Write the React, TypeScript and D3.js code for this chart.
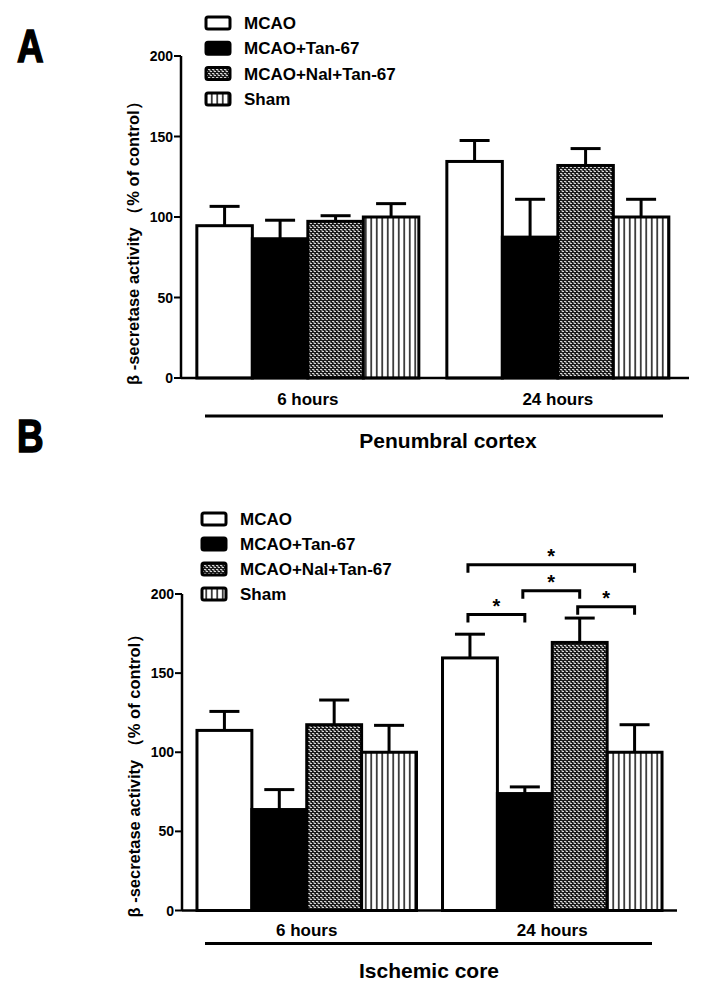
import { useEffect } from "react";
import * as d3 from "d3";

const groups = ["6 hours", "24 hours"];
const series = ["MCAO", "MCAO+Tan-67", "MCAO+Nal+Tan-67", "Sham"];
const yTicks = [0, 50, 100, 150, 200];

// values per group, series order as above (% of control)
const penumbraMeans = [
  [94.6, 86.5, 97.3, 100],
  [134.5, 87.5, 132, 100],
];
const penumbraSem = [
  [12, 11.5, 3.5, 8.3],
  [13, 23.5, 10.5, 11],
];
const coreMeans = [
  [113.8, 63.8, 117.4, 100],
  [159.6, 73.9, 169.4, 100],
];
const coreSem = [
  [12, 12.6, 15.6, 17],
  [15, 4.2, 15.4, 17.4],
];

// significance brackets in the 24 h group of the ischemic core
const coreBrackets = [
  { from: 0, to: 1, level: 187 },
  { from: 1, to: 2, level: 202 },
  { from: 2, to: 3, level: 192 },
  { from: 0, to: 3, level: 218.5 },
];

const FONT = "'Liberation Sans', Arial, sans-serif";
const fills = ["#fff", "#000", "url(#nal)", "url(#sham)"];

interface PanelProps {
  letter: string;
  letterY: number;
  section: string;
  sectionX: number;
  means: number[][];
  sem: number[][];
  brackets?: { from: number; to: number; level: number }[];
  y0: number;
  y200: number;
  xLeft: number;
  xRight: number;
  padInner: number;
  padOuter: number;
  align: number;
  legendX: number;
  legendY: number;
  legendStep: number;
  lineX: [number, number];
  offs: { label: number; line: number; section: number };
}

function Panel(p: PanelProps) {
  const y = d3.scaleLinear().domain([0, 200]).range([p.y0, p.y200]);
  const x0 = d3
    .scaleBand<string>()
    .domain(groups)
    .range([p.xLeft, p.xRight])
    .paddingInner(p.padInner)
    .paddingOuter(p.padOuter)
    .align(p.align);
  const x1 = d3.scaleBand<string>().domain(series).range([0, x0.bandwidth()]);
  const cap = 30;
  const sw = 3;

  return (
    <g>
      <text
        x={0}
        y={0}
        fontFamily={FONT}
        fontWeight="bold"
        fontSize={46}
        stroke="#000"
        strokeWidth={1.6}
        transform={`translate(17,${p.letterY}) scale(0.8,1)`}
      >
        {p.letter}
      </text>

      {/* legend */}
      {series.map((s, i) => {
        const cy = p.legendY + i * p.legendStep;
        return (
          <g key={s}>
            <rect
              x={p.legendX}
              y={cy - 6}
              width={24}
              height={12}
              rx={2}
              fill={fills[i]}
              stroke="#000"
              strokeWidth={3}
            />
            <text
              x={p.legendX + 38}
              y={cy + 6}
              fontFamily={FONT}
              fontWeight="bold"
              fontSize={17}
            >
              {s}
            </text>
          </g>
        );
      })}

      {/* bars */}
      {groups.map((g, gi) =>
        series.map((s, si) => {
          const bx = (x0(g) ?? 0) + (x1(s) ?? 0);
          const bw = x1.bandwidth();
          const v = p.means[gi][si];
          const top = y(v + p.sem[gi][si]);
          const cx = bx + bw / 2;
          return (
            <g key={g + s}>
              <line x1={cx} x2={cx} y1={y(v)} y2={top} stroke="#000" strokeWidth={sw} />
              <line x1={cx - cap / 2} x2={cx + cap / 2} y1={top} y2={top} stroke="#000" strokeWidth={sw} />
              <rect
                x={bx}
                y={y(v)}
                width={bw}
                height={y(0) - y(v)}
                fill={fills[si]}
                stroke="#000"
                strokeWidth={sw}
              />
            </g>
          );
        })
      )}

      {/* brackets */}
      {(p.brackets ?? []).map((b, i) => {
        const gx = x0(groups[1]) ?? 0;
        const xa = gx + (x1(series[b.from]) ?? 0) + x1.bandwidth() / 2 - 2;
        const xb = gx + (x1(series[b.to]) ?? 0) + x1.bandwidth() / 2;
        const by = y(b.level);
        return (
          <g key={i}>
            <path
              d={`M${xa},${by + 8}V${by}H${xb}V${by + 8}`}
              fill="none"
              stroke="#000"
              strokeWidth={3}
            />
            <text
              x={(xa + xb) / 2}
              y={by - 2}
              textAnchor="middle"
              fontFamily={FONT}
              fontWeight="bold"
              fontSize={20}
            >
              *
            </text>
          </g>
        );
      })}

      {/* y axis */}
      <line x1={p.xLeft} x2={p.xLeft} y1={y(200)} y2={y(0)} stroke="#000" strokeWidth={2.5} />
      {yTicks.map((t) => (
        <g key={t}>
          <line x1={p.xLeft - 7} x2={p.xLeft} y1={y(t)} y2={y(t)} stroke="#000" strokeWidth={2} />
          <text
            x={p.xLeft - 8}
            y={y(t) + 5}
            textAnchor="end"
            fontFamily={FONT}
            fontWeight="bold"
            fontSize={14}
          >
            {t}
          </text>
        </g>
      ))}
      <text
        transform={`translate(${p.xLeft - 42},${p.y0 + 7}) rotate(-90)`}
        fontFamily={FONT}
        fontWeight="bold"
        fontSize={16.5}
      >
        β -secretase activity （% of control）
      </text>

      {/* x axis */}
      <line x1={p.xLeft} x2={p.xRight} y1={y(0)} y2={y(0)} stroke="#000" strokeWidth={2.5} />
      {groups.map((g) => (
        <text
          key={g}
          x={(x0(g) ?? 0) + x0.bandwidth() / 2}
          y={p.y0 + p.offs.label}
          textAnchor="middle"
          fontFamily={FONT}
          fontWeight="bold"
          fontSize={17}
        >
          {g}
        </text>
      ))}
      <line
        x1={p.lineX[0]}
        x2={p.lineX[1]}
        y1={p.y0 + p.offs.line}
        y2={p.y0 + p.offs.line}
        stroke="#000"
        strokeWidth={3}
      />
      <text
        x={p.sectionX}
        y={p.y0 + p.offs.section}
        textAnchor="middle"
        fontFamily={FONT}
        fontWeight="bold"
        fontSize={21}
      >
        {p.section}
      </text>
    </g>
  );
}

export default function App() {
  useEffect(() => {
    document.body.style.margin = "0";
  }, []);

  return (
    <svg
      width={702}
      height={995}
      style={{ position: "absolute", left: 0, top: 0, background: "#fff" }}
    >
      <defs>
        <pattern id="nal" width={4} height={4} patternUnits="userSpaceOnUse">
          <rect width={4} height={4} fill="#1a1a1a" />
          <path d="M0,1.5H2V3.5H4" fill="none" stroke="#e6e6e6" strokeWidth={0.9} />
        </pattern>
        <pattern id="sham" width={5.5} height={10} patternUnits="userSpaceOnUse">
          <rect width={5.5} height={10} fill="#fff" />
          <line x1={2.75} x2={2.75} y1={0} y2={10} stroke="#000" strokeWidth={1.4} />
        </pattern>
      </defs>
      <rect width={702} height={995} fill="#fff" />
      <Panel
        letter="A"
        letterY={62}
        section="Penumbral cortex"
        sectionX={448}
        means={penumbraMeans}
        sem={penumbraSem}
        y0={378}
        y200={56}
        xLeft={181}
        xRight={689}
        padInner={0.112}
        padOuter={0.072}
        align={0.44}
        legendX={206}
        legendY={23}
        legendStep={25.3}
        lineX={[205, 663]}
        offs={{ label: 27, line: 38, section: 70 }}
      />
      <Panel
        letter="B"
        letterY={452}
        section="Ischemic core"
        sectionX={429}
        means={coreMeans}
        sem={coreSem}
        brackets={coreBrackets}
        y0={910.5}
        y200={594}
        xLeft={182}
        xRight={677}
        padInner={0.106}
        padOuter={0.061}
        align={0.5}
        legendX={202}
        legendY={519}
        legendStep={25}
        lineX={[205, 652]}
        offs={{ label: 25.5, line: 33, section: 67 }}
      />
    </svg>
  );
}
